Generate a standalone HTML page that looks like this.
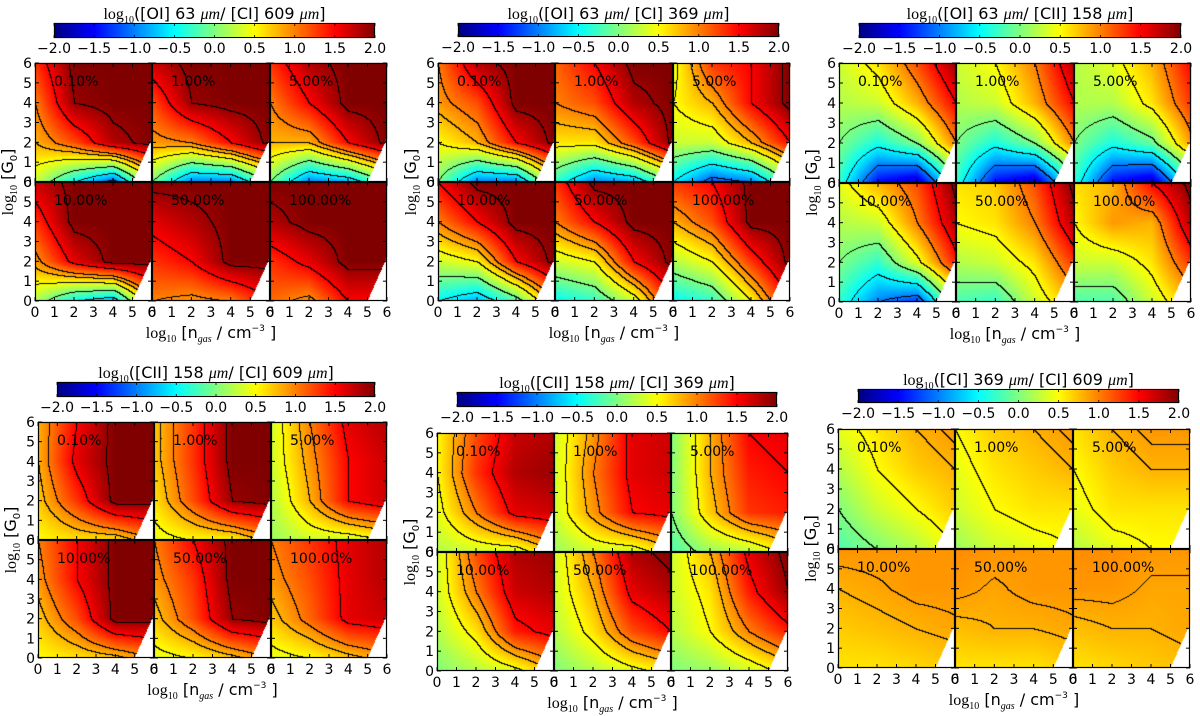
<!DOCTYPE html>
<html>
<head>
<meta charset="utf-8">
<style>
html,body{margin:0;padding:0;background:#fff;}
#wrap{position:relative;width:1200px;height:716px;overflow:hidden;background:#fff;}
canvas,svg{position:absolute;left:0;top:0;}
text{font-family:"DejaVu Sans","Liberation Sans",sans-serif;}
</style>
</head>
<body>
<div id="wrap">
<canvas id="cv" width="1200" height="716"></canvas>
<svg id="sv" width="1200" height="716"></svg>
</div>
<script>
// grids: rows G=6,4,2,0 ; cols n=0,2,4,6
const oi63ci609 = [
 [[1.3,2,2,2],[1.0,1.9,2,2],[0.8,1.2,1.8,2],[0.3,-0.5,-1.2,0.5]],
 [[1.7,2,2,2],[1.2,1.9,2,2],[0.9,1.0,1.5,2],[0.0,-1,-1,0]],
 [[1.3,1.8,2,2],[1.0,1.5,2,2],[0.8,0.8,1.5,2],[0,-1,-0.8,0]],
 [[1.7,2,2,2],[1.3,2,2,2],[0.9,1.6,2,2],[0.2,-0.5,-0.8,1]],
 [[2,2,2,2],[1.6,1.8,2,2],[1.3,1.5,2,2],[1.0,0.9,1.0,1.5]],
 [[2,2,2,2],[1.8,2,2,2],[1.3,1.6,2,2],[1.1,0.9,1.5,1.5]]
];
const oi63ci369 = [
 [[1.0,1.8,2,2],[0.9,1.2,2,2],[0.5,0.8,1.5,2],[0,-1,-1,0.5]],
 [[1.1,1.5,2,2],[1.0,1.2,1.8,2],[0.6,0.6,1.2,2],[-0.3,-1,-0.8,0]],
 [[0.4,1.3,1.5,2],[0.5,0.8,1.5,2],[0.3,0.3,0.8,1.5],[-0.5,-1.2,-1,0]],
 [[1.5,2,2,2],[1.0,1.5,2,2],[0.3,0.5,1.5,2],[-0.5,-0.8,-0.2,1]],
 [[1.3,2,2,2],[1.0,1.5,2,2],[0.3,0.5,1.5,2],[-0.5,-0.3,0.3,1.5]],
 [[1.3,1.5,2,2],[0.8,1.2,2,2],[0.2,0.5,1.3,2],[-0.5,-0.3,0.5,1.5]]
];
const oi63cii158 = [
 [[0.3,0.6,1.2,1.9],[0.2,0.3,0.8,1.5],[0.0,-0.4,0.0,1.0],[-0.3,-1.5,-1.8,-0.2]],
 [[0.3,0.5,1.0,1.8],[0.2,0.3,0.8,1.5],[0.0,-0.4,0.0,1.0],[-0.3,-1.5,-1.8,-0.3]],
 [[0.2,0.4,0.8,1.5],[0.2,0.2,0.6,1.3],[0.0,-0.4,-0.1,0.9],[-0.3,-1.5,-1.8,-0.3]],
 [[0.4,0.8,1.2,2],[0.2,0.3,1.0,1.8],[0.0,-0.3,0.4,1.4],[-0.3,-1.0,-1.3,0.3]],
 [[0.6,0.7,1.2,2],[0.5,0.6,1.0,1.8],[0.2,0.3,0.6,1.3],[-0.2,-0.3,0.3,0.8]],
 [[0.6,0.8,1.5,2],[0.5,0.9,0.8,1.8],[0.3,0.3,0.6,1.3],[-0.2,-0.2,0.3,0.8]]
];
const cii158ci609 = [
 [[0.8,1.5,2,2],[0.8,1.6,2,2],[0.7,1.3,2,2],[0.5,0.6,0.6,1]],
 [[0.7,1.3,2,2],[0.7,1.3,2,2],[0.6,1.2,1.9,2],[0.4,0.5,0.5,0.9]],
 [[0.3,1.0,1.6,1.8],[0.3,0.9,1.5,1.7],[0.2,0.8,1.5,1.7],[0.1,0.3,0.3,0.5]],
 [[1.0,1.5,2,2],[0.9,1.5,2,2],[0.7,1.2,2,2],[0.5,0.6,0.7,1]],
 [[1.0,1.5,2,2],[0.9,1.3,2,2],[0.7,1.2,1.9,2],[0.4,0.5,0.7,1]],
 [[1.0,1.3,1.6,1.8],[0.9,1.2,1.6,1.8],[0.7,1.1,1.6,1.7],[0.4,0.5,0.7,0.9]]
];
const cii158ci369 = [
 [[0.5,1.2,1.7,1.8],[0.5,1.3,1.8,1.9],[0.4,1.0,1.6,1.7],[0.2,0.3,0.3,0.8]],
 [[0.3,0.9,1.6,1.7],[0.3,1.0,1.6,1.7],[0.3,0.9,1.5,1.6],[0.1,0.3,0.3,0.7]],
 [[0,0.8,1.5,1.6],[0,0.8,1.4,1.5],[0,0.7,1.3,1.4],[-0.2,0.1,0.2,0.6]],
 [[0.3,1.2,1.8,1.9],[0.3,1.0,1.7,1.8],[0.2,0.6,1.4,1.6],[0,0.2,0.4,0.8]],
 [[0.3,1.0,1.8,2],[0.3,0.8,1.6,1.8],[0.2,0.6,1.2,1.5],[0,0.2,0.4,0.6]],
 [[0.3,0.8,1.6,2],[0.3,0.6,1.4,1.9],[0.2,0.5,1.0,1.4],[0,0.1,0.3,0.6]]
];
const ci369ci609 = [
 [[0.4,0.6,0.8,0.91],[0.2,0.5,0.7,0.8],[0.0,0.3,0.5,0.7],[-0.2,0,0.2,0.5]],
 [[0.5,0.7,0.8,0.91],[0.4,0.6,0.7,0.8],[0.3,0.5,0.6,0.6],[0.1,0.3,0.4,0.5]],
 [[0.6,0.8,0.91,0.91],[0.5,0.7,0.8,0.8],[0.4,0.6,0.6,0.6],[0.2,0.4,0.5,0.5]],
 [[0.92,0.92,0.91,0.91],[0.8,0.85,0.91,0.91],[0.7,0.75,0.8,0.85],[0.6,0.6,0.65,0.7]],
 [[0.95,0.92,0.91,0.91],[0.91,0.85,0.91,0.91],[0.75,0.8,0.8,0.85],[0.6,0.6,0.6,0.7]],
 [[0.95,0.95,0.91,0.91],[0.91,0.91,0.85,0.85],[0.75,0.8,0.8,0.85],[0.6,0.65,0.7,0.75]]
];
const subplotLabels = ["0.10%","1.00%","5.00%","10.00%","50.00%","100.00%"];
const cbarTicks = ["\u22122.0","\u22121.5","\u22121.0","\u22120.5","0.0","0.5","1.0","1.5","2.0"];
const axisTicks = ["0","1","2","3","4","5","6"];
const levelsA = [-1.5,-1,-0.5,0,0.5,0.8,1.0,1.5,1.9];
const levelsB = [-1,-0.5,0,0.5,1.0,1.5,1.9];
const levelsC = [0,0.5,0.8,0.87];

const panels = [
 {key:"oi63-ci609", title:["[OI] 63 ","[CI] 609 "], data:oi63ci609, levels:levelsA, plot:[35,63,387,301], cbar:[54,23,375,38]},
 {key:"oi63-ci369", title:["[OI] 63 ","[CI] 369 "], data:oi63ci369, levels:levelsA, plot:[438,63,790,301], cbar:[458,23,779,37]},
 {key:"oi63-cii158", title:["[OI] 63 ","[CII] 158 "], data:oi63cii158, levels:levelsB, plot:[839,63,1191,302], cbar:[859,23,1181,38]},
 {key:"cii158-ci609", title:["[CII] 158 ","[CI] 609 "], data:cii158ci609, levels:levelsA, plot:[38,422,387,658], cbar:[57,382,375,397]},
 {key:"cii158-ci369", title:["[CII] 158 ","[CI] 369 "], data:cii158ci369, levels:levelsA, plot:[437,433,788,671], cbar:[457,392,777,407]},
 {key:"ci369-ci609", title:["[CI] 369 ","[CI] 609 "], data:ci369ci609, levels:levelsC, plot:[838,429,1190,668], cbar:[858,389,1179,403]}
];

function jet(v){
  let t=(v+2)/4; t=Math.max(0,Math.min(1,t));
  const c=x=>Math.max(0,Math.min(1,x));
  return [c(1.5-Math.abs(4*t-3))*255, c(1.5-Math.abs(4*t-2))*255, c(1.5-Math.abs(4*t-1))*255];
}
function sample(grid,n,G){
  const fx=Math.min(2.9999,Math.max(0,n/2)), fy=Math.min(2.9999,Math.max(0,(6-G)/2));
  const i=Math.floor(fx), j=Math.floor(fy), dx=fx-i, dy=fy-j;
  const a=grid[j][i], b=grid[j][i+1], c=grid[j+1][i], d=grid[j+1][i+1];
  return a*(1-dx)*(1-dy)+b*dx*(1-dy)+c*(1-dx)*dy+d*dx*dy;
}
function masked(n,G){ return G < 2.2*(n-5); }
function levelIndex(v,lv){ let k=0; for(const l of lv){ if(v>=l) k++; } return k; }

const cv=document.getElementById('cv'); const ctx=cv.getContext('2d');
const img=ctx.createImageData(1200,716);
for(let i=0;i<img.data.length;i+=4){img.data[i]=255;img.data[i+1]=255;img.data[i+2]=255;img.data[i+3]=255;}
function setPx(x,y,rgb){ const o=(y*1200+x)*4; img.data[o]=rgb[0]; img.data[o+1]=rgb[1]; img.data[o+2]=rgb[2]; img.data[o+3]=255; }

const svg=document.getElementById('sv'); const NS="http://www.w3.org/2000/svg";
function el(tag,attrs,parent){ const e=document.createElementNS(NS,tag); for(const k in attrs) e.setAttribute(k,attrs[k]); (parent||svg).appendChild(e); return e; }

panels.forEach(p=>{
  const [X0,Y0,X1,Y1]=p.plot; const W=X1-X0, H=Y1-Y0;
  const sw=W/3, sh=H/2;
  const g=el('g',{});  
  p.data.forEach((grid,si)=>{
    const col=si%3, row=Math.floor(si/3);
    const sx0=Math.round(X0+col*sw), sx1=Math.round(X0+(col+1)*sw);
    const sy0=Math.round(Y0+row*sh), sy1=Math.round(Y0+(row+1)*sh);
    const w=sx1-sx0, h=sy1-sy0;
    const idx=[], msk=[];
    for(let y=0;y<h;y++){ idx.push([]); msk.push([]);
      for(let x=0;x<w;x++){
        const n=6*(x+0.5)/w, G=6*(1-(y+0.5)/h);
        const m=masked(n,G); msk[y].push(m);
        const v=sample(grid,n,G); idx[y].push(levelIndex(v,p.levels));
        setPx(sx0+x,sy0+y, m?[255,255,255]:jet(v));
      }}
    for(let y=1;y<h;y++) for(let x=1;x<w;x++){
      if(msk[y][x]) continue;
      if((idx[y][x]!==idx[y][x-1]&&!msk[y][x-1])||(idx[y][x]!==idx[y-1][x]&&!msk[y-1][x])) setPx(sx0+x,sy0+y,[0,0,0]);
    }
    const fr=el('rect',{x:sx0+0.5,y:sy0+0.5,width:w-1,height:h-1,fill:'none',stroke:'#000','stroke-width':1.2},g);
    
    
    const lb=el('text',{x:sx0+19,y:sy0+23,'font-size':14,fill:'#000'},g); lb.textContent=subplotLabels[si];
    
    
    axisTicks.forEach((t,ti)=>{
      const tx=sx0+w*ti/6, ty=sy1-h*ti/6;
      el('line',{x1:tx,y1:sy1,x2:tx,y2:sy1-4,stroke:'#000','stroke-width':1},g);
      el('line',{x1:tx,y1:sy0,x2:tx,y2:sy0+4,stroke:'#000','stroke-width':1},g);
      el('line',{x1:sx0,y1:ty,x2:sx0+4,y2:ty,stroke:'#000','stroke-width':1},g);
      el('line',{x1:sx1,y1:ty,x2:sx1-4,y2:ty,stroke:'#000','stroke-width':1},g);
      if(row===1){ const xt=el('text',{x:tx,y:Y1+16,'font-size':14,'text-anchor':'middle'},g); xt.textContent=t;
        
         }
      if(col===0){ const yt=el('text',{x:X0-3,y:ty+5,'font-size':14,'text-anchor':'end'},g); yt.textContent=t;
        
         }
    });
  });
  const xl=el('text',{x:(X0+X1)/2,y:Y1+37,'font-size':16,'text-anchor':'middle'},g);
  xl.innerHTML='<tspan font-family="Liberation Serif">log</tspan><tspan font-family="Liberation Serif" font-size="10" dy="4">10</tspan><tspan dy="-4"> [n</tspan><tspan font-family="Liberation Serif" font-style="italic" font-size="10" dy="4">gas</tspan><tspan dy="-4"> / cm</tspan><tspan font-size="9" dy="-7">\u22123</tspan><tspan dy="7"> ]</tspan>';
  
  
  const cy=(Y0+Y1)/2, lx=X0-22;
  const yl=el('text',{x:lx,y:cy,'font-size':16,'text-anchor':'middle',transform:`rotate(-90 ${lx} ${cy})`},g);
  yl.innerHTML='<tspan font-family="Liberation Serif">log</tspan><tspan font-family="Liberation Serif" font-size="10" dy="4">10</tspan><tspan dy="-4"> [G</tspan><tspan font-size="10" dy="4">0</tspan><tspan dy="-4">]</tspan>';
  
  
  const [C0,D0,C1,D1]=p.cbar;
  for(let x=C0;x<C1;x++){ const v=-2+4*(x-C0+0.5)/(C1-C0); const rgb=jet(v); for(let y=D0;y<D1;y++) setPx(x,y,rgb); }
  const cb=el('rect',{x:C0+0.5,y:D0+0.5,width:C1-C0-1,height:D1-D0-1,fill:'none',stroke:'#000','stroke-width':1},g);
  
  
  cbarTicks.forEach((t,ti)=>{
    const tx=C0+(C1-C0)*ti/8;
    el('line',{x1:tx,y1:D0,x2:tx,y2:D0+3,stroke:'#000','stroke-width':0.8},g);
    el('line',{x1:tx,y1:D1,x2:tx,y2:D1-3,stroke:'#000','stroke-width':0.8},g);
    const ct=el('text',{x:tx,y:D1+15,'font-size':14,'text-anchor':'middle'},g); ct.textContent=t;
    
    
  });
  const tt=el('text',{x:(C0+C1)/2,y:D0-4,'font-size':16,'text-anchor':'middle'},g);
  tt.innerHTML='<tspan font-family="Liberation Serif">log</tspan><tspan font-family="Liberation Serif" font-size="10" dy="4">10</tspan><tspan dy="-4">('+p.title[0]+'</tspan><tspan font-family="Liberation Serif" font-style="italic">\u03bcm</tspan><tspan>/ '+p.title[1]+'</tspan><tspan font-family="Liberation Serif" font-style="italic">\u03bcm</tspan><tspan>]</tspan>';
  
  
});
ctx.putImageData(img,0,0);
</script>
</body>
</html>
